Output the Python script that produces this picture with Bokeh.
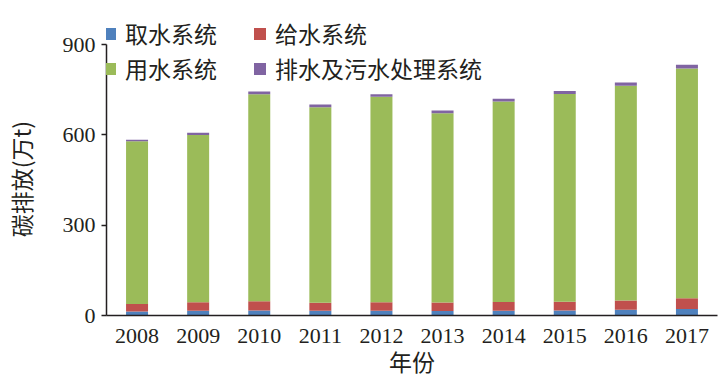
from bokeh.plotting import figure
from bokeh.models import ColumnDataSource, Range1d, FactorRange, Legend, LegendItem
from bokeh.embed import file_html
from bokeh.resources import INLINE

years = ["2008", "2009", "2010", "2011", "2012", "2013", "2014", "2015", "2016", "2017"]
intake = [13, 16, 17, 16, 16, 15, 16, 17, 19, 22]          # 取水系统
supply = [25, 28, 30, 26, 28, 28, 29, 29, 31, 35]          # 给水系统
usage = [541, 556, 688, 650, 683, 629, 666, 690, 713, 764]  # 用水系统
drain = [5, 7, 9, 9, 8, 9, 9, 10, 11, 12]                  # 排水及污水处理系统
series_names = ["取水系统", "给水系统", "用水系统", "排水及污水处理系统"]
keys = ["intake", "supply", "usage", "drain"]
colors = ["#4F81BD", "#C0504D", "#9BBB59", "#8064A2"]
y_ticks = [0, 300, 600, 900]

src = ColumnDataSource(data=dict(years=years, intake=intake, supply=supply, usage=usage, drain=drain))

SERIF = "Liberation Serif"
CJK = "Noto Sans CJK SC"

p = figure(x_range=FactorRange(*years, range_padding=0), y_range=Range1d(0, 1000),
           output_backend="svg", toolbar_location=None,
           frame_width=611, frame_height=301,
           min_border_left=81, min_border_top=14, min_border_right=26, min_border_bottom=60)

renderers = p.vbar_stack(keys, x="years", width=0.36, color=colors, line_color=None, source=src)

legend = Legend(items=[LegendItem(label=n, renderers=[r]) for n, r in zip(series_names, renderers)],
                orientation="horizontal", nrows=2, location=(-4, 230),
                glyph_width=15, glyph_height=15, label_height=25, label_width=126,
                label_standoff=8, spacing=1, padding=0, margin=0,
                border_line_color=None, background_fill_alpha=0,
                label_text_font=CJK, label_text_font_size="23px", label_text_color="#231f20")
p.add_layout(legend, "center")

p.outline_line_color = None
p.xgrid.grid_line_color = None
p.ygrid.grid_line_color = None

p.yaxis.ticker = y_ticks
p.yaxis.bounds = (0, 900)
p.yaxis.axis_label = "碳排放(万t)\u3000 "
p.xaxis.axis_label = "年份"
for ax in (p.xaxis, p.yaxis):
    ax.axis_line_color = "#231f20"
    ax.axis_line_width = 1.5
    ax.major_label_text_font = SERIF
    ax.major_label_text_font_size = "22px"
    ax.major_label_text_color = "#231f20"
    ax.axis_label_text_font = CJK
    ax.axis_label_text_font_size = "23px"
    ax.axis_label_text_font_style = "normal"
    ax.axis_label_text_color = "#231f20"
    ax.minor_tick_line_color = None

p.yaxis.major_tick_out = 5
p.yaxis.major_tick_in = 0
p.yaxis.major_tick_line_color = "#231f20"
p.yaxis.major_tick_line_width = 1.5
p.yaxis.major_label_standoff = 6
p.yaxis.axis_label_standoff = 22
p.xaxis.major_tick_out = 0
p.xaxis.major_tick_in = 0
p.xaxis.major_tick_line_color = None
p.xaxis.major_label_standoff = 13
p.xaxis.axis_label_standoff = -2

open("out.html", "w").write(file_html(p, INLINE))
